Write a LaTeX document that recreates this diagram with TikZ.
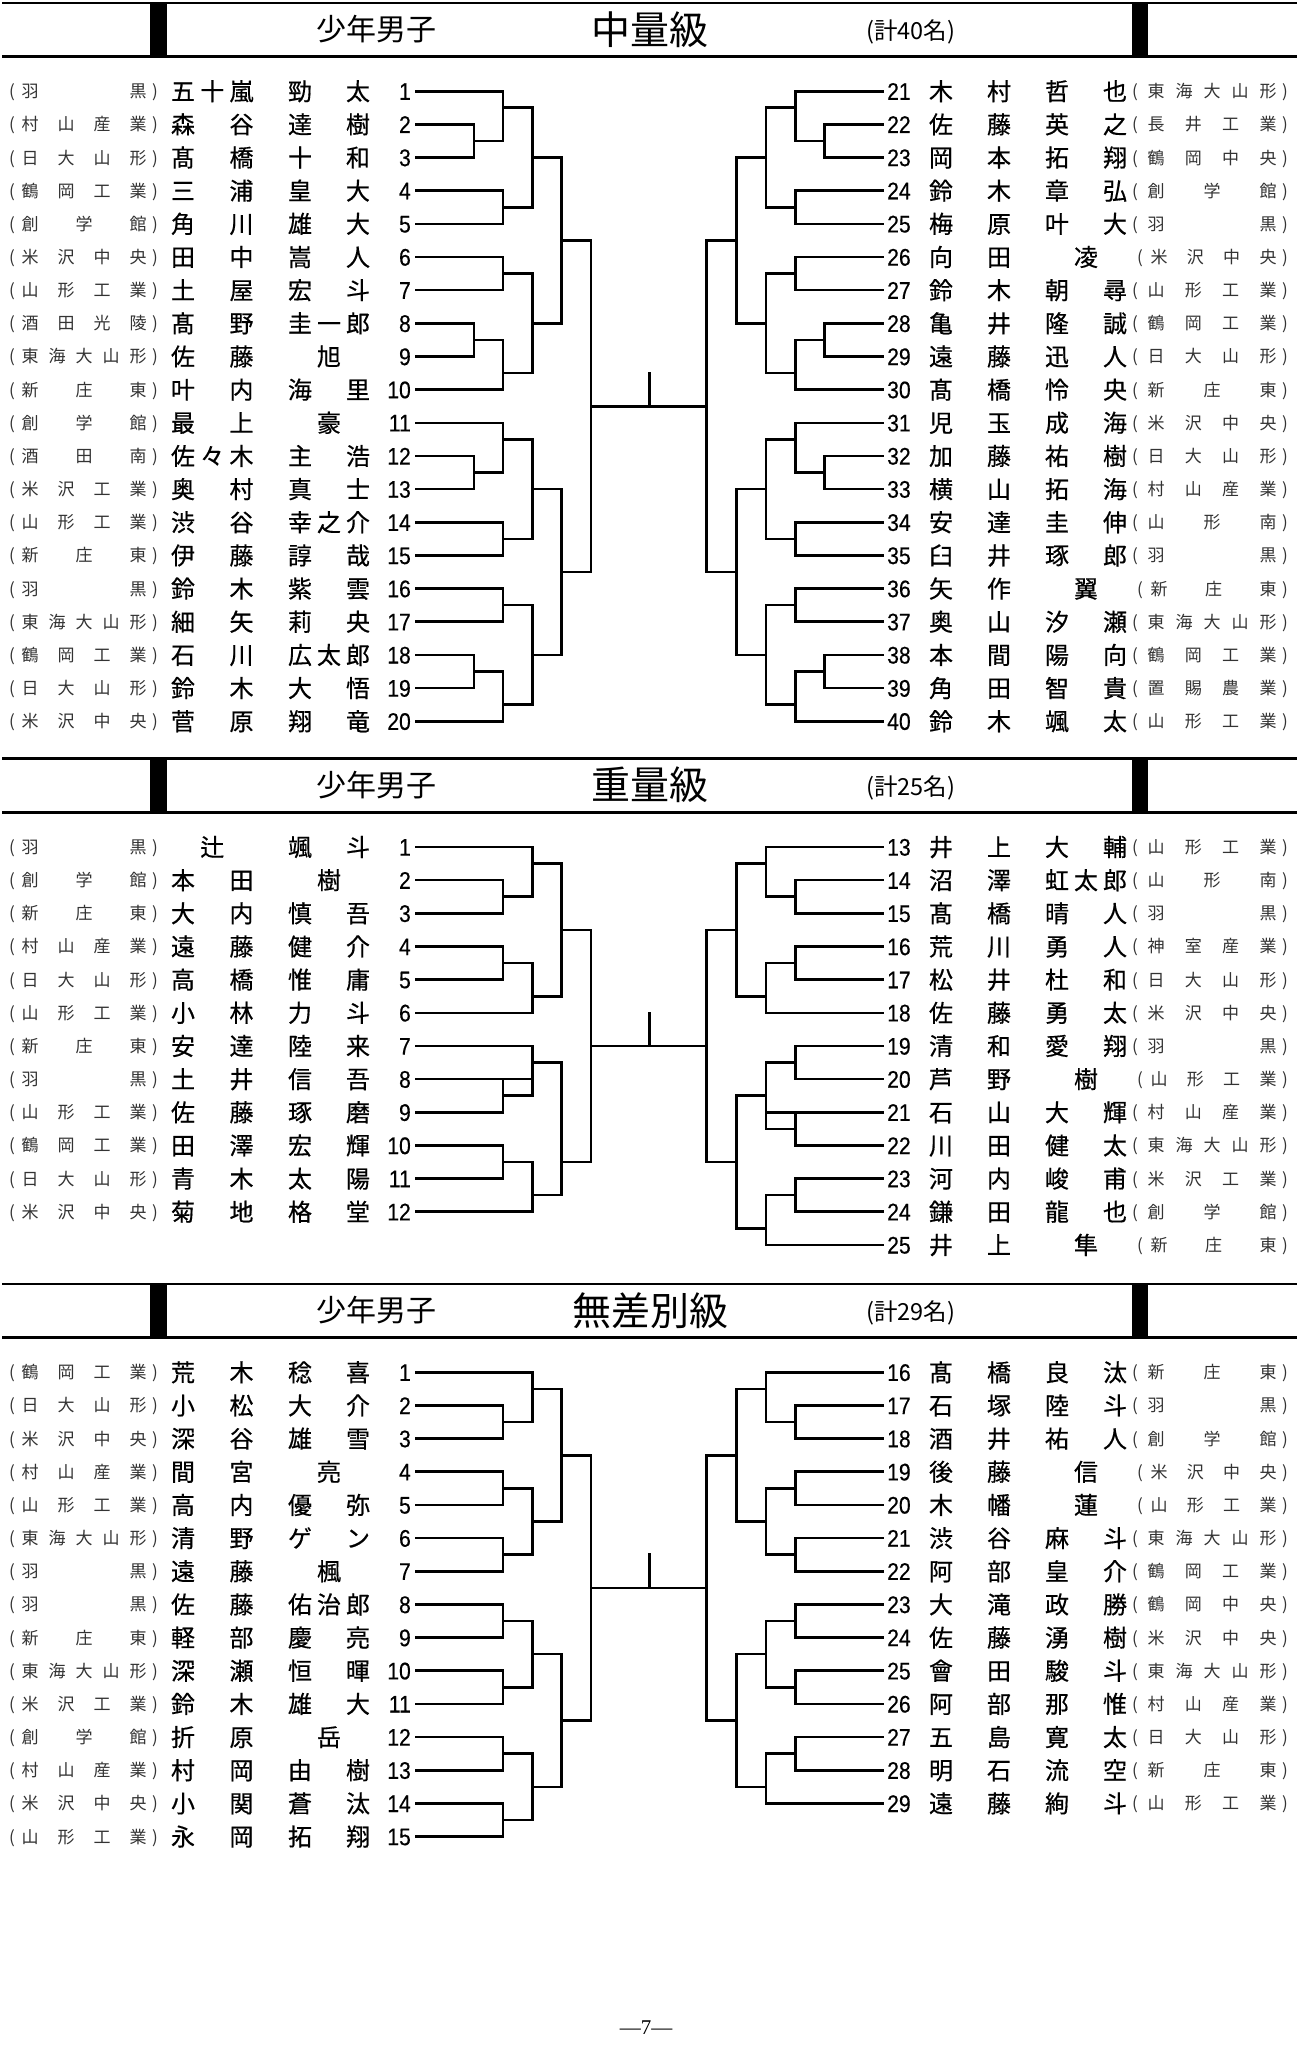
\documentclass[tikz,border=0pt]{standalone}
\usepackage{fontspec}
\newfontfamily\cjk{Noto Sans CJK JP}
\newfontfamily\cjkn[FakeBold=0.5]{Noto Sans CJK JP}
\newfontfamily\numfont[FakeStretch=0.88,FakeBold=0.4]{Liberation Sans}
\newfontfamily\footfont{Liberation Serif}
\newcount\nodecnt
\newcommand\tn{\global\advance\nodecnt by 1\relax}
\def\xLS{416}\def\xLa{474}\def\xLb{503}\def\xLc{532.5}\def\xLd{561.5}\def\xLe{591}
\def\xMid{649.3}
\def\xRe{706.5}\def\xRd{736.5}\def\xRc{766}\def\xRb{795.5}\def\xRa{824.5}\def\xRE{883}
\tikzset{
  nm/.style={font={\cjkn\fontsize{24}{24}\selectfont}, anchor=base, inner sep=0pt, yshift=-9.1pt},
  sc/.style={font={\cjk\fontsize{17}{17}\selectfont}, text=black!80, anchor=base, inner sep=0pt, yshift=-6.5pt},
  numL/.style={font={\numfont\fontsize{24}{24}\selectfont}, anchor=base east, inner sep=0pt, yshift=-8.6pt},
  numR/.style={font={\numfont\fontsize{24}{24}\selectfont}, anchor=base west, inner sep=0pt, yshift=-8.6pt},
  br/.style={line width=2.6pt, line cap=rect},
  hsub/.style={font={\cjk\fontsize{30}{30}\selectfont}, inner sep=0pt, anchor=center},
  htitle/.style={font={\cjk\fontsize{39}{39}\selectfont}, inner sep=0pt, anchor=center},
  hcount/.style={font={\cjk\fontsize{23.5}{23.5}\selectfont}, inner sep=0pt, anchor=west},
}
% spread characters of a list between two x positions
\newcommand\spread[5]{%
  \foreach \ch [count=\ii] in {#5} {\xdef\nch{\ii}}%
  \foreach \ch [count=\ii] in {#5} {%
    \ifnum\nch=1\relax
      \pgfmathsetmacro\xx{((#3)+(#4))/2}%
    \else
      \pgfmathsetmacro\xx{(#3)+(\ii-1)*((#4)-(#3))/(\nch-1)}%
    \fi
    \tn\node[#1, name=t\the\nodecnt] at (\xx,#2) {\ch};
  }%
}
\newcommand\Lrow[5]{%
  \tn\node[sc, name=t\the\nodecnt] at (12,#1) {(};
  \spread{sc}{#1}{30}{138}{#2}%
  \tn\node[sc, name=t\the\nodecnt] at (155,#1) {)};
  \spread{nm}{#1}{183}{241.5}{#3}%
  \spread{nm}{#1}{300}{358}{#4}%
  \tn\node[numL, name=t\the\nodecnt] at (411,#1) {#5};
}
\newcommand\Rrow[6][0]{%
  \tn\node[numR, name=t\the\nodecnt] at (887,#2) {#3};
  \spread{nm}{#2}{941}{999}{#4}%
  \spread{nm}{#2}{1057}{1115}{#5}%
  \tn\node[sc, name=t\the\nodecnt] at (1135+#1,#2) {(};
  \spread{sc}{#2}{1156+#1*0.6}{1268}{#6}%
  \tn\node[sc, name=t\the\nodecnt] at (1285,#2) {)};
}
\newcommand\J[5]{\draw[br] (#1,#2) -- (#1,#3); \draw[br] (#1,#4) -- (#5,#4);}
\newcommand\header[3]{%
  \draw[line width=2.4pt] (2,#1+2.7) -- (1297,#1+2.7);
  \draw[line width=3pt] (2,#1+56.5) -- (1297,#1+56.5);
  \fill (150,#1+2.7) rectangle (167,#1+56.5);
  \fill (1132,#1+2.7) rectangle (1148,#1+56.5);
  \tn\node[hsub, name=t\the\nodecnt] at (376,#1+29) {少年男子};
  \tn\node[htitle, name=t\the\nodecnt] at (650,#1+29.5) {#2};
  \tn\node[hcount, name=t\the\nodecnt] at (866,#1+32) {(計#3名)};
}
\begin{document}
\begin{tikzpicture}[x=1pt, y=-1pt]
\fill[white] (0,0) rectangle (1299,2048);
\useasboundingbox (0,0) rectangle (1299,2048);

\header{0}{中量級}{40}
\header{755.6}{重量級}{25}
\header{1281.1}{無差別級}{29}

%================ Section 1 ================
\begin{scope}[yshift=-58.04pt, y=-33.16pt]
\Lrow{1}{羽,黒}{五,十,嵐}{勁,太}{1}
\Lrow{2}{村,山,産,業}{森,谷}{達,樹}{2}
\Lrow{3}{日,大,山,形}{髙,橋}{十,和}{3}
\Lrow{4}{鶴,岡,工,業}{三,浦}{皇,大}{4}
\Lrow{5}{創,学,館}{角,川}{雄,大}{5}
\Lrow{6}{米,沢,中,央}{田,中}{嵩,人}{6}
\Lrow{7}{山,形,工,業}{土,屋}{宏,斗}{7}
\Lrow{8}{酒,田,光,陵}{髙,野}{圭,一,郎}{8}
\Lrow{9}{東,海,大,山,形}{佐,藤}{旭}{9}
\Lrow{10}{新,庄,東}{叶,内}{海,里}{10}
\Lrow{11}{創,学,館}{最,上}{豪}{11}
\Lrow{12}{酒,田,南}{佐,々,木}{主,浩}{12}
\Lrow{13}{米,沢,工,業}{奥,村}{真,士}{13}
\Lrow{14}{山,形,工,業}{渋,谷}{幸,之,介}{14}
\Lrow{15}{新,庄,東}{伊,藤}{諄,哉}{15}
\Lrow{16}{羽,黒}{鈴,木}{紫,雲}{16}
\Lrow{17}{東,海,大,山,形}{細,矢}{莉,央}{17}
\Lrow{18}{鶴,岡,工,業}{石,川}{広,太,郎}{18}
\Lrow{19}{日,大,山,形}{鈴,木}{大,悟}{19}
\Lrow{20}{米,沢,中,央}{菅,原}{翔,竜}{20}
\Rrow{1}{21}{木,村}{哲,也}{東,海,大,山,形}
\Rrow{2}{22}{佐,藤}{英,之}{長,井,工,業}
\Rrow{3}{23}{岡,本}{拓,翔}{鶴,岡,中,央}
\Rrow{4}{24}{鈴,木}{章,弘}{創,学,館}
\Rrow{5}{25}{梅,原}{叶,大}{羽,黒}
\Rrow[5]{6}{26}{向,田}{凌}{米,沢,中,央}
\Rrow{7}{27}{鈴,木}{朝,尋}{山,形,工,業}
\Rrow{8}{28}{亀,井}{隆,誠}{鶴,岡,工,業}
\Rrow{9}{29}{遠,藤}{迅,人}{日,大,山,形}
\Rrow{10}{30}{髙,橋}{怜,央}{新,庄,東}
\Rrow{11}{31}{児,玉}{成,海}{米,沢,中,央}
\Rrow{12}{32}{加,藤}{祐,樹}{日,大,山,形}
\Rrow{13}{33}{横,山}{拓,海}{村,山,産,業}
\Rrow{14}{34}{安,達}{圭,伸}{山,形,南}
\Rrow{15}{35}{臼,井}{琢,郎}{羽,黒}
\Rrow[5]{16}{36}{矢,作}{翼}{新,庄,東}
\Rrow{17}{37}{奥,山}{汐,瀬}{東,海,大,山,形}
\Rrow{18}{38}{本,間}{陽,向}{鶴,岡,工,業}
\Rrow{19}{39}{角,田}{智,貴}{置,賜,農,業}
\Rrow{20}{40}{鈴,木}{颯,太}{山,形,工,業}
% left bracket
\foreach \rr/\xe in {1/\xLb,2/\xLa,3/\xLa,4/\xLb,5/\xLb,6/\xLb,7/\xLb,8/\xLa,9/\xLa,10/\xLb,11/\xLb,12/\xLa,13/\xLa,14/\xLb,15/\xLb,16/\xLb,17/\xLb,18/\xLa,19/\xLa,20/\xLb}
  {\draw[br] (\xLS,\rr) -- (\xe,\rr);}
\J{\xLa}{2}{3}{2.5}{\xLb}
\J{\xLb}{1}{2.5}{1.5}{\xLc}
\J{\xLb}{4}{5}{4.5}{\xLc}
\J{\xLc}{1.5}{4.5}{3}{\xLd}
\J{\xLb}{6}{7}{6.5}{\xLc}
\J{\xLa}{8}{9}{8.5}{\xLb}
\J{\xLb}{8.5}{10}{9.5}{\xLc}
\J{\xLc}{6.5}{9.5}{8}{\xLd}
\J{\xLd}{3}{8}{5.5}{\xLe}
\J{\xLa}{12}{13}{12.5}{\xLb}
\J{\xLb}{11}{12.5}{11.5}{\xLc}
\J{\xLb}{14}{15}{14.5}{\xLc}
\J{\xLc}{11.5}{14.5}{13}{\xLd}
\J{\xLb}{16}{17}{16.5}{\xLc}
\J{\xLa}{18}{19}{18.5}{\xLb}
\J{\xLb}{18.5}{20}{19.5}{\xLc}
\J{\xLc}{16.5}{19.5}{18}{\xLd}
\J{\xLd}{13}{18}{15.5}{\xLe}
\J{\xLe}{5.5}{15.5}{10.5}{\xRe}
% right bracket
\foreach \rr/\xe in {1/\xRb,2/\xRa,3/\xRa,4/\xRb,5/\xRb,6/\xRb,7/\xRb,8/\xRa,9/\xRa,10/\xRb,11/\xRb,12/\xRa,13/\xRa,14/\xRb,15/\xRb,16/\xRb,17/\xRb,18/\xRa,19/\xRa,20/\xRb}
  {\draw[br] (\xRE,\rr) -- (\xe,\rr);}
\J{\xRa}{2}{3}{2.5}{\xRb}
\J{\xRb}{1}{2.5}{1.5}{\xRc}
\J{\xRb}{4}{5}{4.5}{\xRc}
\J{\xRc}{1.5}{4.5}{3}{\xRd}
\J{\xRb}{6}{7}{6.5}{\xRc}
\J{\xRa}{8}{9}{8.5}{\xRb}
\J{\xRb}{8.5}{10}{9.5}{\xRc}
\J{\xRc}{6.5}{9.5}{8}{\xRd}
\J{\xRd}{3}{8}{5.5}{\xRe}
\J{\xRa}{12}{13}{12.5}{\xRb}
\J{\xRb}{11}{12.5}{11.5}{\xRc}
\J{\xRb}{14}{15}{14.5}{\xRc}
\J{\xRc}{11.5}{14.5}{13}{\xRd}
\J{\xRb}{16}{17}{16.5}{\xRc}
\J{\xRa}{18}{19}{18.5}{\xRb}
\J{\xRb}{18.5}{20}{19.5}{\xRc}
\J{\xRc}{16.5}{19.5}{18}{\xRd}
\J{\xRd}{13}{18}{15.5}{\xRe}
\draw[br] (\xRe,5.5) -- (\xRe,15.5);
\draw[br] (\xMid,9.5) -- (\xMid,10.5);
\end{scope}

%================ Section 2 ================
\begin{scope}[yshift=-813.84pt, y=-33.16pt]
\Lrow{1}{羽,黒}{辻}{颯,斗}{1}
\Lrow{2}{創,学,館}{本,田}{樹}{2}
\Lrow{3}{新,庄,東}{大,内}{慎,吾}{3}
\Lrow{4}{村,山,産,業}{遠,藤}{健,介}{4}
\Lrow{5}{日,大,山,形}{高,橋}{惟,庸}{5}
\Lrow{6}{山,形,工,業}{小,林}{力,斗}{6}
\Lrow{7}{新,庄,東}{安,達}{陸,来}{7}
\Lrow{8}{羽,黒}{土,井}{信,吾}{8}
\Lrow{9}{山,形,工,業}{佐,藤}{琢,磨}{9}
\Lrow{10}{鶴,岡,工,業}{田,澤}{宏,輝}{10}
\Lrow{11}{日,大,山,形}{青,木}{太,陽}{11}
\Lrow{12}{米,沢,中,央}{菊,地}{格,堂}{12}
\Rrow{1}{13}{井,上}{大,輔}{山,形,工,業}
\Rrow{2}{14}{沼,澤}{虹,太,郎}{山,形,南}
\Rrow{3}{15}{髙,橋}{晴,人}{羽,黒}
\Rrow{4}{16}{荒,川}{勇,人}{神,室,産,業}
\Rrow{5}{17}{松,井}{杜,和}{日,大,山,形}
\Rrow{6}{18}{佐,藤}{勇,太}{米,沢,中,央}
\Rrow{7}{19}{清,和}{愛,翔}{羽,黒}
\Rrow[5]{8}{20}{芦,野}{樹}{山,形,工,業}
\Rrow{9}{21}{石,山}{大,輝}{村,山,産,業}
\Rrow{10}{22}{川,田}{健,太}{東,海,大,山,形}
\Rrow{11}{23}{河,内}{峻,甫}{米,沢,工,業}
\Rrow{12}{24}{鎌,田}{龍,也}{創,学,館}
\Rrow[5]{13}{25}{井,上}{隼}{新,庄,東}
\foreach \rr/\xe in {1/\xLc,2/\xLb,3/\xLb,4/\xLb,5/\xLb,6/\xLc,7/\xLc,8/\xLc,9/\xLb,10/\xLb,11/\xLb,12/\xLc}
  {\draw[br] (\xLS,\rr) -- (\xe,\rr);}
\J{\xLb}{2}{3}{2.5}{\xLc}
\J{\xLc}{1}{2.5}{1.5}{\xLd}
\J{\xLb}{4}{5}{4.5}{\xLc}
\J{\xLc}{4.5}{6}{5.5}{\xLd}
\J{\xLd}{1.5}{5.5}{3.5}{\xLe}
\J{\xLb}{8}{9}{8.5}{\xLc}
\J{\xLc}{7}{8.5}{7.5}{\xLd}
\J{\xLb}{10}{11}{10.5}{\xLc}
\J{\xLc}{10.5}{12}{11.5}{\xLd}
\J{\xLd}{7.5}{11.5}{10.5}{\xLe}
\J{\xLe}{3.5}{10.5}{7}{\xRe}
\foreach \rr/\xe in {1/\xRc,2/\xRb,3/\xRb,4/\xRb,5/\xRb,6/\xRc,7/\xRb,8/\xRb,9/\xRc,10/\xRb,11/\xRb,12/\xRb,13/\xRc}
  {\draw[br] (\xRE,\rr) -- (\xe,\rr);}
\J{\xRb}{2}{3}{2.5}{\xRc}
\J{\xRc}{1}{2.5}{1.5}{\xRd}
\J{\xRb}{4}{5}{4.5}{\xRc}
\J{\xRc}{4.5}{6}{5.5}{\xRd}
\J{\xRd}{1.5}{5.5}{3.5}{\xRe}
\J{\xRb}{7}{8}{7.5}{\xRc}
\J{\xRb}{9}{10}{9.5}{\xRc}
\J{\xRc}{7.5}{9.5}{8.5}{\xRd}
\J{\xRb}{11}{12}{11.5}{\xRc}
\J{\xRc}{11.5}{13}{12.5}{\xRd}
\J{\xRd}{8.5}{12.5}{10.5}{\xRe}
\draw[br] (\xRe,3.5) -- (\xRe,10.5);
\draw[br] (\xMid,6) -- (\xMid,7);
\end{scope}

%================ Section 3 ================
\begin{scope}[yshift=-1339.14pt, y=-33.16pt]
\Lrow{1}{鶴,岡,工,業}{荒,木}{稔,喜}{1}
\Lrow{2}{日,大,山,形}{小,松}{大,介}{2}
\Lrow{3}{米,沢,中,央}{深,谷}{雄,雪}{3}
\Lrow{4}{村,山,産,業}{間,宮}{亮}{4}
\Lrow{5}{山,形,工,業}{高,内}{優,弥}{5}
\Lrow{6}{東,海,大,山,形}{清,野}{ゲ,ン}{6}
\Lrow{7}{羽,黒}{遠,藤}{楓}{7}
\Lrow{8}{羽,黒}{佐,藤}{佑,治,郎}{8}
\Lrow{9}{新,庄,東}{軽,部}{慶,亮}{9}
\Lrow{10}{東,海,大,山,形}{深,瀬}{恒,暉}{10}
\Lrow{11}{米,沢,工,業}{鈴,木}{雄,大}{11}
\Lrow{12}{創,学,館}{折,原}{岳}{12}
\Lrow{13}{村,山,産,業}{村,岡}{由,樹}{13}
\Lrow{14}{米,沢,中,央}{小,関}{蒼,汰}{14}
\Lrow{15}{山,形,工,業}{永,岡}{拓,翔}{15}
\Rrow{1}{16}{髙,橋}{良,汰}{新,庄,東}
\Rrow{2}{17}{石,塚}{陸,斗}{羽,黒}
\Rrow{3}{18}{酒,井}{祐,人}{創,学,館}
\Rrow[5]{4}{19}{後,藤}{信}{米,沢,中,央}
\Rrow[5]{5}{20}{木,幡}{蓮}{山,形,工,業}
\Rrow{6}{21}{渋,谷}{麻,斗}{東,海,大,山,形}
\Rrow{7}{22}{阿,部}{皇,介}{鶴,岡,工,業}
\Rrow{8}{23}{大,滝}{政,勝}{鶴,岡,中,央}
\Rrow{9}{24}{佐,藤}{湧,樹}{米,沢,中,央}
\Rrow{10}{25}{會,田}{駿,斗}{東,海,大,山,形}
\Rrow{11}{26}{阿,部}{那,惟}{村,山,産,業}
\Rrow{12}{27}{五,島}{寛,太}{日,大,山,形}
\Rrow{13}{28}{明,石}{流,空}{新,庄,東}
\Rrow{14}{29}{遠,藤}{絢,斗}{山,形,工,業}
\foreach \rr/\xe in {1/\xLc,2/\xLb,3/\xLb,4/\xLb,5/\xLb,6/\xLb,7/\xLb,8/\xLb,9/\xLb,10/\xLb,11/\xLb,12/\xLb,13/\xLb,14/\xLb,15/\xLb}
  {\draw[br] (\xLS,\rr) -- (\xe,\rr);}
\J{\xLb}{2}{3}{2.5}{\xLc}
\J{\xLc}{1}{2.5}{1.5}{\xLd}
\J{\xLb}{4}{5}{4.5}{\xLc}
\J{\xLb}{6}{7}{6.5}{\xLc}
\J{\xLc}{4.5}{6.5}{5.5}{\xLd}
\J{\xLd}{1.5}{5.5}{3.5}{\xLe}
\J{\xLb}{8}{9}{8.5}{\xLc}
\J{\xLb}{10}{11}{10.5}{\xLc}
\J{\xLc}{8.5}{10.5}{9.5}{\xLd}
\J{\xLb}{12}{13}{12.5}{\xLc}
\J{\xLb}{14}{15}{14.5}{\xLc}
\J{\xLc}{12.5}{14.5}{13.5}{\xLd}
\J{\xLd}{9.5}{13.5}{11.5}{\xLe}
\J{\xLe}{3.5}{11.5}{7.5}{\xRe}
\foreach \rr/\xe in {1/\xRc,2/\xRb,3/\xRb,4/\xRb,5/\xRb,6/\xRb,7/\xRb,8/\xRb,9/\xRb,10/\xRb,11/\xRb,12/\xRb,13/\xRb,14/\xRc}
  {\draw[br] (\xRE,\rr) -- (\xe,\rr);}
\J{\xRb}{2}{3}{2.5}{\xRc}
\J{\xRc}{1}{2.5}{1.5}{\xRd}
\J{\xRb}{4}{5}{4.5}{\xRc}
\J{\xRb}{6}{7}{6.5}{\xRc}
\J{\xRc}{4.5}{6.5}{5.5}{\xRd}
\J{\xRd}{1.5}{5.5}{3.5}{\xRe}
\J{\xRb}{8}{9}{8.5}{\xRc}
\J{\xRb}{10}{11}{10.5}{\xRc}
\J{\xRc}{8.5}{10.5}{9.5}{\xRd}
\J{\xRb}{12}{13}{12.5}{\xRc}
\J{\xRc}{12.5}{14}{13.5}{\xRd}
\J{\xRd}{9.5}{13.5}{11.5}{\xRe}
\draw[br] (\xRe,3.5) -- (\xRe,11.5);
\draw[br] (\xMid,6.5) -- (\xMid,7.5);
\end{scope}

\node[font={\footfont\fontsize{21}{21}\selectfont}, inner sep=0pt, name=footer] at (646,2028) {—7—};
\end{tikzpicture}
\end{document}
